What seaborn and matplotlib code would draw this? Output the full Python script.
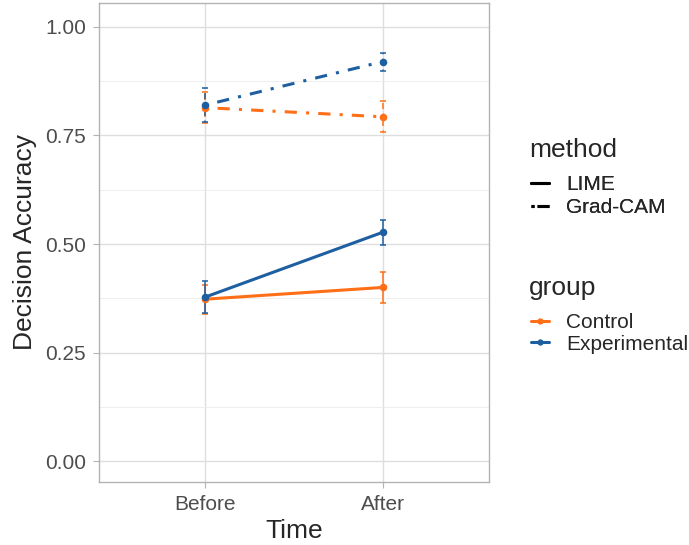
import matplotlib
matplotlib.use("Agg")
import matplotlib.pyplot as plt
import seaborn as sns
import pandas as pd
import numpy as np
from matplotlib.lines import Line2D
from matplotlib.ticker import MultipleLocator

sns.set_theme(style="white")
plt.rcParams['font.family'] = ['Liberation Sans', 'DejaVu Sans']

times = ["Before", "After"]
groups = ["Control", "Experimental"]
methods = ["LIME", "Grad-CAM"]

# mean accuracy per (method, group) for Before, After
lime_control = [0.373, 0.400]
lime_experimental = [0.378, 0.527]
gradcam_control = [0.814, 0.793]
gradcam_experimental = [0.820, 0.920]
# standard errors
lime_control_se = [0.033, 0.036]
lime_experimental_se = [0.037, 0.029]
gradcam_control_se = [0.036, 0.036]
gradcam_experimental_se = [0.040, 0.021]

colors = {"Control": "#FF6F17", "Experimental": "#1D5FA0"}
dash = {"LIME": "-", "Grad-CAM": (0, (1, 3, 4, 3))}

rows = []
vals = {("LIME", "Control"): (lime_control, lime_control_se),
        ("LIME", "Experimental"): (lime_experimental, lime_experimental_se),
        ("Grad-CAM", "Control"): (gradcam_control, gradcam_control_se),
        ("Grad-CAM", "Experimental"): (gradcam_experimental, gradcam_experimental_se)}
for (m, g), (mu, se) in vals.items():
    for t, v, s in zip(times, mu, se):
        rows.append(dict(method=m, group=g, time=t, acc=v, se=s))
df = pd.DataFrame(rows)

fig = plt.figure(figsize=(6.89, 5.45), dpi=100)
ax = fig.add_axes([99/689, 1-482/545, 390/689, 479/545])

for m in methods:
    sub = df[df.method == m]
    for g in groups:
        s = sub[sub.group == g]
        xpos = [times.index(t) for t in s.time]
        eb = ax.errorbar(xpos, s.acc, yerr=s.se, fmt="none", ecolor=colors[g],
                         elinewidth=1.1, capsize=2.0, capthick=1.1, zorder=2)
        for c in eb[2]:
            c.set_linestyle(dash[m])
    sns.pointplot(data=sub, x="time", y="acc", hue="group", order=times,
                  hue_order=groups, palette=colors, errorbar=None,
                  linestyles=[dash[m], dash[m]], markers="o",
                  markersize=3.8, linewidth=2.2, ax=ax, legend=False, zorder=3)

ax.set_xlim(-0.6, 1.6)
ax.set_ylim(-0.048, 1.055)
ax.yaxis.set_minor_locator(MultipleLocator(0.125))
ax.set_yticks([0, 0.25, 0.5, 0.75, 1.0])
ax.set_yticklabels(["0.00", "0.25", "0.50", "0.75", "1.00"])

ax.grid(True, which="major", color="#DEDEDE", linewidth=1.0)
ax.grid(True, which="minor", axis="y", color="#EBEBEB", linewidth=0.6)
ax.set_axisbelow(True)
for sp in ax.spines.values():
    sp.set_color("#B3B3B3")
    sp.set_linewidth(1.0)
ax.tick_params(axis="both", which="major", length=4.3, width=0.8, color="#B3B3B3",
               labelsize=15, labelcolor="#4D4D4D", pad=5, bottom=True, left=True)
ax.tick_params(axis="y", which="minor", length=0)
ax.set_xlabel("Time", fontsize=19, labelpad=4)
ax.set_ylabel("Decision Accuracy", fontsize=19, labelpad=6)

# legends
fig.text(529/689, 1-157/545, "method", fontsize=19, ha="left", va="baseline")
fig.text(529/689, 1-295/545, "group", fontsize=19, ha="left", va="baseline")
mh = [Line2D([], [], color="black", linestyle=dash[m], linewidth=2.2) for m in methods]
mh[1].set_linestyle((0, (1, 1, 4, 3)))
leg1 = fig.legend(mh, methods, loc="upper left",
                  bbox_to_anchor=(531/689, 1-175/545), frameon=False,
                  fontsize=15, handlelength=0.87, borderpad=0, borderaxespad=0,
                  handletextpad=0.8, labelspacing=0.2)
gh = [Line2D([], [], color=colors[g], linestyle="-", linewidth=2.2,
             marker="o", markersize=3.5) for g in groups]
leg2 = fig.legend(gh, groups, loc="upper left",
                  bbox_to_anchor=(531/689, 1-313/545), frameon=False,
                  fontsize=15, handlelength=0.87, borderpad=0, borderaxespad=0,
                  handletextpad=0.8, labelspacing=0.12)
fig.add_artist(leg1)

fig.savefig("out.png", dpi=100)
